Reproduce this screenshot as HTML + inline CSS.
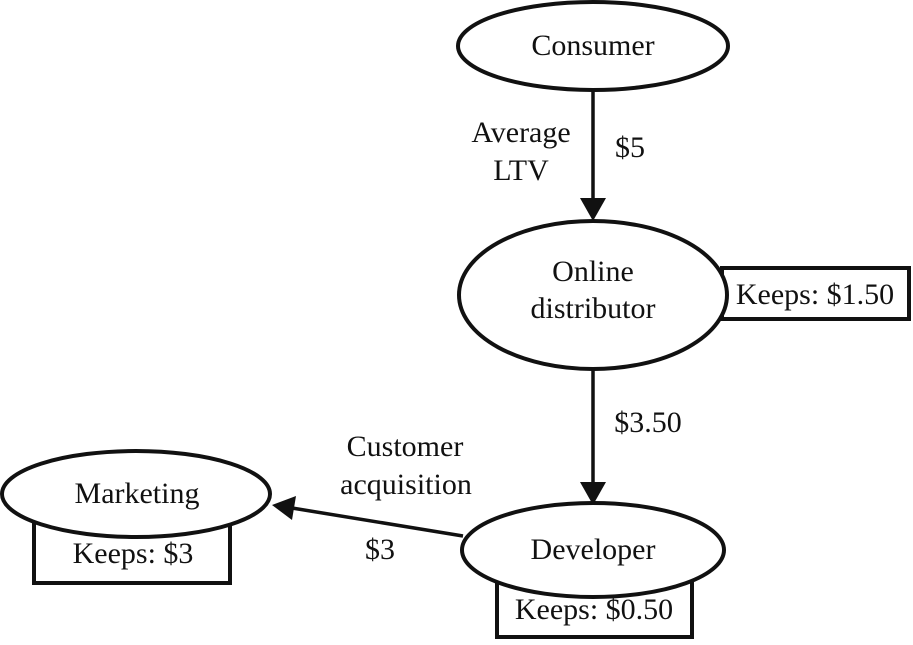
<!DOCTYPE html>
<html><head><style>body{margin:0;background:#fff}</style></head><body>
<svg width="913" height="640" viewBox="0 0 913 640" xmlns="http://www.w3.org/2000/svg" font-family="Liberation Serif, serif" font-size="30" fill="#111">
<g stroke="#111" stroke-width="4" fill="#fff">
<rect x="722" y="268" width="187" height="51"/>
<rect x="34" y="505" width="196" height="78"/>
<rect x="497" y="580" width="195" height="57"/>
<ellipse cx="593" cy="46" rx="135" ry="44"/>
<ellipse cx="593" cy="295" rx="134" ry="74"/>
<ellipse cx="593" cy="550" rx="131" ry="47"/>
<ellipse cx="136" cy="494" rx="134" ry="43"/>
</g>
<g stroke="#111" stroke-width="3.5">
<line x1="593" y1="90" x2="593" y2="200"/>
<line x1="593" y1="369" x2="593" y2="484"/>
<line x1="463" y1="536" x2="292" y2="508"/>
</g>
<path d="M580,198 L606,198 L593,221 z" fill="#111"/>
<path d="M580,482 L606,482 L593,505 z" fill="#111"/>
<path d="M272,505 L296,496 L292,520 z" fill="#111"/>
<g text-anchor="middle">
<text x="593" y="55">Consumer</text>
<text x="593" y="281">Online</text>
<text x="593" y="318">distributor</text>
<text x="593" y="559">Developer</text>
<text x="137" y="503">Marketing</text>
<text x="521" y="142">Average</text>
<text x="521" y="180">LTV</text>
<text x="630" y="157">$5</text>
<text x="648" y="432">$3.50</text>
<text x="405" y="456">Customer</text>
<text x="406" y="494">acquisition</text>
<text x="380" y="559">$3</text>
<text x="815" y="304">Keeps: $1.50</text>
<text x="133" y="563">Keeps: $3</text>
<text x="594" y="619">Keeps: $0.50</text>
</g>
</svg>
</body></html>
